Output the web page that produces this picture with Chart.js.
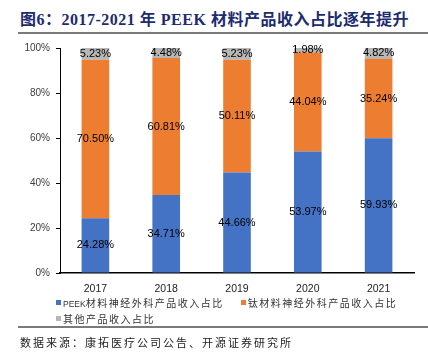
<!DOCTYPE html>
<html>
<head>
<meta charset="utf-8">
<script src="https://cdn.jsdelivr.net/npm/chart.js@4/dist/chart.umd.min.js"></script>
<style>
  html, body { margin: 0; padding: 0; background: #fff; }
  #wrap { position: relative; width: 428px; height: 359px; overflow: hidden; }
  #title {
    position: absolute; left: 20px; top: 10px; white-space: nowrap;
    font: bold 16px "Liberation Serif", "Noto Sans CJK SC", serif;
    letter-spacing: 0.5px; color: #1d2b6f; line-height: 20px;
  }
  .rule { position: absolute; left: 18px; right: 0; height: 2px; background: #7a7a7a; }
  #chart { position: absolute; left: 0; top: 0; }
  #legend {
    position: absolute; left: 56px; top: 296px; width: 372px;
    display: flex; flex-wrap: wrap; column-gap: 17px; row-gap: 3px;
  }
  .lg-item { display: flex; align-items: center; white-space: nowrap; height: 13px;
    font: 10px "Noto Sans CJK SC", sans-serif; letter-spacing: 1.5px; color: #333; }
  .lg-box { width: 5px; height: 5px; margin-right: 2px; }
  .lat { font: 8.5px "Liberation Sans", sans-serif; letter-spacing: 0; }
  #source {
    position: absolute; left: 20px; top: 334px; white-space: nowrap;
    font: 11px "Noto Sans CJK SC", sans-serif; letter-spacing: 2px; color: #222; line-height: 16px;
  }
</style>
</head>
<body>
<div id="wrap">
  <div id="title">图6：2017-2021 年 PEEK 材料产品收入占比逐年提升</div>
  <div class="rule" style="top:32px"></div>
  <canvas id="chart" width="428" height="300"></canvas>
  <div id="legend"></div>
  <div class="rule" style="top:326px;height:1.5px"></div>
  <div id="source">数据来源：康拓医疗公司公告、开源证券研究所</div>
</div>
<script>
const years = ['2017', '2018', '2019', '2020', '2021'];
const peekShare = [24.28, 34.71, 44.66, 53.97, 59.93];
const titaniumShare = [70.50, 60.81, 50.11, 44.04, 35.24];
const otherShare = [5.23, 4.48, 5.23, 1.98, 4.82];
const seriesNames = ['PEEK材料神经外科产品收入占比', '钛材料神经外科产品收入占比', '其他产品收入占比'];
const seriesColors = ['#4472c4', '#ed7d31', '#b7b7b7'];
const yTicks = [0, 20, 40, 60, 80, 100];

// labels in the middle of each stacked segment
const segmentLabels = {
  id: 'segmentLabels',
  afterDatasetsDraw(chart) {
    const ctx = chart.ctx;
    ctx.save();
    ctx.font = '11px "Liberation Sans", Arial, sans-serif';
    ctx.fillStyle = '#000';
    ctx.textAlign = 'center';
    ctx.textBaseline = 'middle';
    chart.data.datasets.forEach((ds, i) => {
      chart.getDatasetMeta(i).data.forEach((bar, j) => {
        ctx.fillText(ds.data[j].toFixed(2) + '%', bar.x, (bar.y + bar.base) / 2);
      });
    });
    ctx.restore();
  }
};

const shares = [peekShare, titaniumShare, otherShare];

new Chart(document.getElementById('chart').getContext('2d'), {
  type: 'bar',
  data: {
    labels: years,
    datasets: shares.map((d, i) => ({
      label: seriesNames[i],
      data: d,
      backgroundColor: seriesColors[i],
      borderWidth: 0,
      categoryPercentage: 1,
      barPercentage: 0.39
    }))
  },
  options: {
    responsive: false,
    animation: false,
    layout: { padding: { left: 0, right: 14, top: 48, bottom: 0 } },
    plugins: { legend: { display: false }, tooltip: { enabled: false } },
    scales: {
      x: {
        stacked: true,
        afterFit: s => { s.height = 27; },
        grid: { display: false, drawTicks: false },
        border: { display: true, color: '#000', width: 1.5 },
        ticks: { color: '#222', padding: 10, font: { family: 'Liberation Sans', size: 10.5 } }
      },
      y: {
        stacked: true,
        min: 0,
        max: 100,
        afterFit: s => { s.width = 60; },
        afterBuildTicks: s => { s.ticks = yTicks.map(v => ({ value: v })); },
        grid: { drawOnChartArea: false, drawTicks: true, tickLength: 4, color: '#000' },
        border: { display: true, color: '#000', width: 1 },
        ticks: { color: '#404040', padding: 6, font: { family: 'Liberation Sans', size: 10 }, callback: v => v + '%' }
      }
    }
  },
  plugins: [segmentLabels]
});

const legend = document.getElementById('legend');
seriesNames.forEach((name, i) => {
  const item = document.createElement('div');
  item.className = 'lg-item';
  item.innerHTML = `<span class="lg-box" style="background:${seriesColors[i]}"></span>` +
    `<span>${name.replace(/([A-Za-z]+)/g, '<span class="lat">$1</span>')}</span>`;
  legend.appendChild(item);
});
</script>
</body>
</html>
